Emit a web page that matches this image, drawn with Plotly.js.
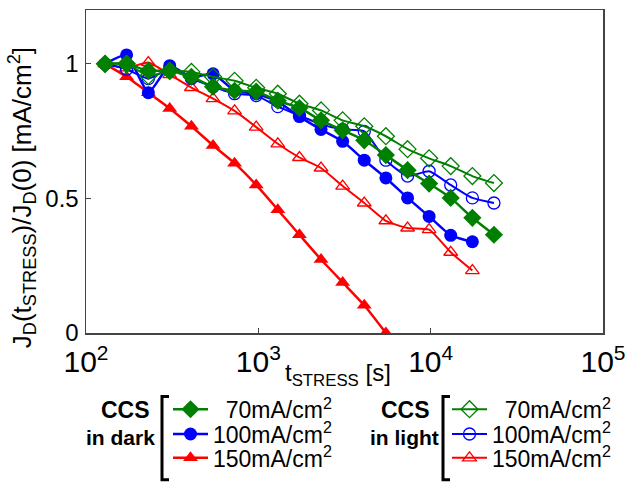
<!DOCTYPE html>
<html><head><meta charset="utf-8">
<script src="https://cdn.plot.ly/plotly-3.0.1.min.js"></script>
<style>html,body{margin:0;padding:0;background:#fff}#chart{width:631px;height:489px}</style>
</head><body><div id="chart"></div>
<script>
// stress time [s]
const tStress = [129,172,230,306,409,546,728,972,1297,1732,2311,3085,4118,5496,7345,9795,13070,17460,23290];
// normalized J_D, CCS in dark
const dark70  = [1.0,1.0,0.974,0.974,0.952,0.915,0.900,0.897,0.863,0.836,0.790,0.753,0.716,0.661,0.605,0.555,0.502,0.428,0.365];
const dark100 = [1.0,1.033,0.893,0.993,0.950,0.963,0.900,0.889,0.860,0.804,0.756,0.712,0.642,0.576,0.502,0.433,0.363,0.339];
const dark150 = [1.0,0.952,0.893,0.834,0.768,0.697,0.631,0.550,0.458,0.365,0.273,0.188,0.103,0.0];
// normalized J_D, CCS in light
const light70  = [1.0,1.0,0.955,0.974,0.970,0.952,0.937,0.911,0.889,0.852,0.827,0.790,0.768,0.731,0.683,0.649,0.620,0.583,0.557];
const light100 = [1.0,0.980,0.945,0.980,0.945,0.915,0.889,0.882,0.841,0.808,0.775,0.756,0.749,0.642,0.583,0.601,0.550,0.502,0.483];
const light150 = [1.0,0.985,1.005,0.960,0.912,0.871,0.825,0.765,0.703,0.652,0.613,0.546,0.483,0.417,0.390,0.384,0.300,0.232];
const seriesLabels = ['\u00a0\u00a070mA/cm<sup>2</sup>','100mA/cm<sup>2</sup>','150mA/cm<sup>2</sup>'];
const yTickVals = [0,0.5,1];
const yTickText = ['0','0.5','1'];

const FONT = 'Arial, "Liberation Sans", sans-serif';
const GREEN = '#008000', BLUE = '#0000ff', RED = '#ff0000';
// plot-area pixel frame (for layout placement only)
const L=86, R=603, T=10, B=336;
const fx = p => (p-L)/(R-L);
const fy = p => (B-p)/(B-T);

function tr(vals, color, symbol, size, lw, open, label, leg){
  return {
    x: tStress.slice(0, vals.length), y: vals, type:'scatter', mode:'lines+markers',
    name: label, legend: leg,
    line:{color:color, width:lw, shape:'spline', smoothing:0.5},
    marker:{symbol:symbol, size:size, color: color,
            line:{color:color, width: open ? 1.3 : 0}}
  };
}
const data = [
  tr(light150, RED, 'triangle-up-open', 12, 2, true, seriesLabels[2], 'legend6'),
  tr(dark150, RED, 'triangle-up', 13, 2.5, false, seriesLabels[2], 'legend3'),
  tr(light100, BLUE, 'circle-open', 12, 2, true, seriesLabels[1], 'legend5'),
  tr(dark100, BLUE, 'circle', 13, 2.5, false, seriesLabels[1], 'legend2'),
  tr(light70, GREEN, 'diamond-open', 13, 2, true, seriesLabels[0], 'legend4'),
  tr(dark70, GREEN, 'diamond', 14, 2.5, false, seriesLabels[0], 'legend')
];

const rows = [413, 438, 462];
function legendAt(xp, yp){
  return {x: fx(xp), y: fy(yp), xanchor:'left', yanchor:'middle', bgcolor:'rgba(0,0,0,0)',
          borderwidth:0, itemwidth:35, font:{family:FONT, size:23, color:'#000'}};
}
const axisFont = {family:FONT, size:24, color:'#000'};
const layout = {
  width:631, height:489,
  margin:{l:L, r:631-R, t:T, b:489-B},
  paper_bgcolor:'#fff', plot_bgcolor:'#fff',
  font:{family:FONT, color:'#000'},
  showlegend:true,
  legend: legendAt(168, rows[0]),
  legend2: legendAt(168, rows[1]),
  legend3: legendAt(168, rows[2]),
  legend4: legendAt(447, rows[0]),
  legend5: legendAt(447, rows[1]),
  legend6: legendAt(447, rows[2]),
  xaxis:{type:'log', range:[2,5], dtick:1, exponentformat:'power', showgrid:false, zeroline:false,
         ticks:'inside', ticklen:5, tickcolor:'#444', showline:true, linecolor:'#444', linewidth:1.5,
         mirror:true, tickfont:axisFont, ticklabelstandoff:3},
  yaxis:{range:[0,1.2], tickvals:yTickVals, ticktext:yTickText, showgrid:false, zeroline:false,
         ticks:'inside', ticklen:5, tickcolor:'#444', showline:true, linecolor:'#444', linewidth:1.5,
         mirror:true, tickfont:axisFont, ticklabelstandoff:1},
  annotations:[
    {xref:'paper', yref:'paper', x:fx(22), y:fy(200), xanchor:'center', yanchor:'middle', textangle:-90,
     showarrow:false, font:{family:FONT, size:26, color:'#000'},
     text:'J<sub>D</sub>(t<sub>STRESS</sub>)/J<sub>D</sub>(0) [mA/cm<sup>2</sup>]'},
    {xref:'paper', yref:'paper', x:fx(338), y:fy(378), xanchor:'center', yanchor:'middle',
     showarrow:false, font:{family:FONT, size:24, color:'#000'},
     text:'t<sub>STRESS</sub> [s]'},
    {xref:'paper', yref:'paper', x:fx(125), y:fy(414), xanchor:'center', yanchor:'middle', showarrow:false,
     font:{family:FONT, size:23, color:'#000'}, text:'<b>CCS</b>'},
    {xref:'paper', yref:'paper', x:fx(157), y:fy(441), xanchor:'right', yanchor:'middle', showarrow:false,
     font:{family:FONT, size:21, color:'#000'}, text:'<b>in dark</b>'},
    {xref:'paper', yref:'paper', x:fx(405), y:fy(414), xanchor:'center', yanchor:'middle', showarrow:false,
     font:{family:FONT, size:23, color:'#000'}, text:'<b>CCS</b>'},
    {xref:'paper', yref:'paper', x:fx(441), y:fy(441), xanchor:'right', yanchor:'middle', showarrow:false,
     font:{family:FONT, size:21, color:'#000'}, text:'<b>in light</b>'}
  ],
  shapes:[
    {type:'path', xref:'paper', yref:'paper', line:{color:'#000', width:3},
     path:`M ${fx(169)} ${fy(400)} L ${fx(162)} ${fy(400)} L ${fx(162)} ${fy(484)} L ${fx(169)} ${fy(484)}`},
    {type:'path', xref:'paper', yref:'paper', line:{color:'#000', width:3},
     path:`M ${fx(450)} ${fy(400)} L ${fx(443)} ${fy(400)} L ${fx(443)} ${fy(484)} L ${fx(450)} ${fy(484)}`}
  ]
};
Plotly.newPlot('chart', data, layout, {displayModeBar:false, staticPlot:true});
</script></body></html>
